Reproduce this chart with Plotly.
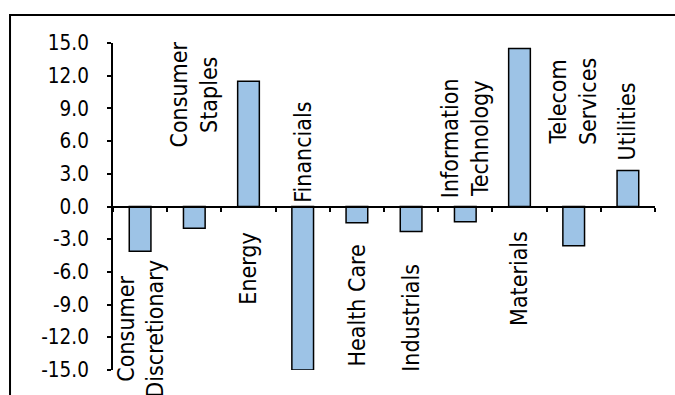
import plotly.graph_objects as go

categories = ["Consumer<br>Discretionary", "Consumer<br>Staples", "Energy", "Financials",
              "Health Care", "Industrials", "Information<br>Technology", "Materials",
              "Telecom<br>Services", "Utilities"]
values = [-4.1, -2.0, 11.5, -15.0, -1.5, -2.3, -1.4, 14.5, -3.6, 3.3]
tick_vals = [15, 12, 9, 6, 3, 0, -3, -6, -9, -12, -15]
tick_text = ["15.0", "12.0", "9.0", "6.0", "3.0", "0.0", "-3.0", "-6.0", "-9.0", "-12.0", "-15.0"]

# label placement (layout only): vertical centre of each rotated category label
label_pos = [-11.2, 10.3, -5.75, 5.0, -9.1, -10.2, 6.3, -6.6, 9.65, 7.8]

FONT = "DejaVu Sans Condensed, DejaVu Sans, sans-serif"

xs = list(range(len(categories)))

fig = go.Figure()
fig.add_trace(go.Bar(
    x=xs, y=values, width=0.4,
    marker=dict(color="#9DC3E6", line=dict(color="black", width=1.5)),
    xaxis="x", yaxis="y",
))

for i, (cat, yp) in enumerate(zip(categories, label_pos)):
    fig.add_annotation(
        x=i, y=yp, xref="x", yref="y", text=cat, textangle=-90,
        showarrow=False, xanchor="center", yanchor="middle", align="center",
        font=dict(family=FONT, size=23, color="black"),
    )

fig.update_layout(
    width=675, height=395,
    margin=dict(l=113, r=20, t=43, b=25),
    paper_bgcolor="white", plot_bgcolor="white",
    showlegend=False,
    xaxis=dict(range=[-0.5, len(categories) - 0.5], showticklabels=False,
               showgrid=False, zeroline=False, showline=False, ticks=""),
    xaxis2=dict(overlaying="x", anchor="free", position=0.5, side="bottom",
                type="category", range=[-0.5, len(categories) - 0.5],
                tickvals=xs, ticktext=[""] * len(xs),
                tickson="boundaries", ticks="outside", ticklen=4, tickwidth=2,
                tickcolor="black", showline=True, linecolor="black", linewidth=2,
                showgrid=False, zeroline=False, showticklabels=False),
    yaxis=dict(range=[-15, 15], tickvals=tick_vals, ticktext=tick_text,
               ticks="outside", ticklen=4, tickwidth=2, tickcolor="black",
               showline=True, linecolor="black", linewidth=2,
               showgrid=False, zeroline=False, ticklabelstandoff=14,
               tickfont=dict(family=FONT, size=20.5, color="black")),
    shapes=[dict(type="rect", xref="paper", yref="paper",
                 x0=-0.19, x1=1.2, y0=-0.3, y1=1.0856,
                 line=dict(color="black", width=2), fillcolor="rgba(0,0,0,0)",
                 layer="below")],
)

# dummy trace to activate xaxis2
fig.add_trace(go.Scatter(x=[c for c in categories], y=[None] * len(categories),
                         xaxis="x2", yaxis="y", mode="markers", hoverinfo="skip"))

fig.write_html("out.html")
